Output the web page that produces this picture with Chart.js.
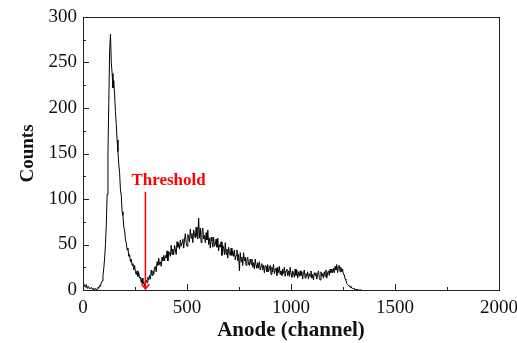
<!DOCTYPE html>
<html>
<head>
<meta charset="utf-8">
<script src="https://cdn.jsdelivr.net/npm/chart.js@4/dist/chart.umd.min.js"></script>
<style>
  html, body { margin: 0; padding: 0; background: #fff; }
  canvas { display: block; }
</style>
</head>
<body>
<canvas id="spectrum" width="517" height="343"></canvas>
<script>
// counts per bin, bin width 4 channels starting at channel 0 (20 bins per row)
const binWidth = 4;
const counts = [
  7, 4, 5, 3, 6, 2, 4, 3, 1, 2, 3, 1, 2, 0, 1, 2, 0, 1, 3, 2,
  5, 4, 8, 10, 16, 24, 35, 50, 72, 105, 150, 205, 262, 281, 250, 238, 222, 230, 214, 196,
  182, 165, 152, 138, 129, 110, 104, 86, 82, 69, 66, 55, 52, 44, 46, 37, 39, 31, 34, 27,
  29, 22, 27, 20, 17, 21, 15, 19, 13, 14, 8, 13, 7, 9, 4, 9, 11, 8, 14, 11,
  16, 12, 22, 16, 21, 17, 25, 26, 20, 31, 27, 35, 28, 31, 26, 36, 32, 38, 32, 38,
  35, 43, 32, 42, 41, 37, 49, 39, 45, 39, 49, 45, 39, 53, 47, 51, 45, 55, 48, 52,
  56, 46, 55, 62, 52, 48, 61, 58, 53, 67, 57, 62, 52, 66, 61, 57, 69, 59, 56, 79,
  57, 68, 52, 64, 68, 56, 60, 52, 63, 55, 66, 50, 57, 46, 58, 54, 47, 58, 48, 50,
  56, 47, 57, 43, 50, 47, 53, 38, 49, 46, 39, 52, 39, 45, 35, 47, 41, 38, 46, 38,
  43, 37, 44, 33, 38, 44, 32, 39, 21, 41, 31, 36, 27, 41, 32, 36, 27, 34, 36, 28,
  27, 34, 28, 34, 25, 30, 23, 34, 27, 24, 30, 24, 31, 22, 26, 29, 22, 27, 19, 27,
  26, 20, 28, 20, 24, 27, 17, 25, 20, 28, 18, 21, 24, 16, 25, 19, 26, 17, 21, 16,
  23, 18, 25, 15, 21, 23, 16, 21, 15, 25, 18, 14, 21, 19, 14, 23, 16, 22, 13, 20,
  15, 21, 16, 20, 12, 19, 22, 13, 18, 15, 20, 12, 18, 15, 21, 13, 17, 11, 19, 16,
  19, 12, 17, 21, 14, 11, 20, 15, 18, 13, 20, 15, 22, 13, 19, 21, 16, 23, 19, 23,
  19, 24, 19, 26, 22, 28, 19, 25, 27, 20, 25, 20, 23, 17, 17, 12, 11, 7, 6, 5,
  5, 3, 4, 2, 2, 1, 2, 0, 1, 0, 1, 0, 0, 0, 0, 0
];
const channels = counts.map((c, i) => i * binWidth);

const xTicks = [0, 500, 1000, 1500, 2000];
const yTicks = [0, 50, 100, 150, 200, 250, 300];
const thresholdChannel = 300;
const thresholdTop = 108;
const thresholdLabel = 'Threshold';

const points = channels.map((ch, i) => ({ x: ch, y: counts[i] }));

// frame, inward ticks and threshold arrow
const frameAndArrow = {
  id: 'frameAndArrow',
  afterDatasetsDraw(chart) {
    const ctx = chart.ctx;
    const area = chart.chartArea;
    const xs = chart.scales.x;
    const ys = chart.scales.y;
    ctx.save();
    ctx.strokeStyle = '#222';
    ctx.lineWidth = 1;
    ctx.strokeRect(Math.round(area.left) + 0.5, Math.round(area.top) + 0.5,
      Math.round(area.right - area.left), Math.round(area.bottom - area.top));

    ctx.beginPath();
    for (let v = 0; v <= 2000; v += 250) {
      const px = Math.round(xs.getPixelForValue(v)) + 0.5;
      const len = v % 500 === 0 ? 6 : 3;
      ctx.moveTo(px, area.bottom);
      ctx.lineTo(px, area.bottom - len);
    }
    for (let v = 0; v <= 300; v += 25) {
      const py = Math.round(ys.getPixelForValue(v)) + 0.5;
      const len = v % 50 === 0 ? 6 : 3;
      ctx.moveTo(area.left, py);
      ctx.lineTo(area.left + len, py);
    }
    ctx.stroke();

    // threshold arrow
    const ax = xs.getPixelForValue(thresholdChannel);
    const top = ys.getPixelForValue(thresholdTop);
    const bot = ys.getPixelForValue(0);
    ctx.strokeStyle = '#ff0000';
    ctx.lineWidth = 1.5;
    ctx.beginPath();
    ctx.moveTo(ax, top);
    ctx.lineTo(ax, bot - 1);
    ctx.moveTo(ax - 4, bot - 6);
    ctx.lineTo(ax, bot - 1);
    ctx.lineTo(ax + 4, bot - 6);
    ctx.stroke();

    ctx.fillStyle = '#ff0000';
    ctx.font = 'bold 17px "Liberation Serif", "Times New Roman", serif';
    ctx.textAlign = 'left';
    ctx.textBaseline = 'alphabetic';
    ctx.fillText(thresholdLabel, ax - 14, top - 7);
    ctx.restore();
  }
};

const serif = '"Liberation Serif", "Times New Roman", serif';

new Chart(document.getElementById('spectrum'), {
  type: 'line',
  data: {
    datasets: [{
      label: 'Anode',
      data: points,
      borderColor: '#000',
      borderWidth: 1,
      pointRadius: 0,
      tension: 0,
      fill: false
    }]
  },
  options: {
    responsive: false,
    animation: false,
    devicePixelRatio: 1,
    layout: { padding: { top: 17, right: 18, left: 0, bottom: 0 } },
    plugins: {
      legend: { display: false },
      tooltip: { enabled: false }
    },
    scales: {
      x: {
        type: 'linear',
        min: 0,
        max: 2000,
        afterBuildTicks: s => { s.ticks = xTicks.map(v => ({ value: v })); },
        afterFit: s => { s.height = 53; s.paddingLeft = 0; s.paddingRight = 0; },
        grid: { display: false, drawTicks: false },
        border: { display: false },
        ticks: {
          color: '#111', padding: 7, maxRotation: 0,
          font: { family: serif, size: 19 },
          callback: v => String(v)
        },
        title: {
          display: true,
          text: 'Anode (channel)',
          color: '#111',
          padding: { top: 0, bottom: 0 },
          font: { family: serif, size: 21, weight: 'bold' }
        }
      },
      y: {
        min: 0,
        max: 300,
        afterBuildTicks: s => { s.ticks = yTicks.map(v => ({ value: v })); },
        afterFit: s => { s.width = 83; s.paddingTop = 0; s.paddingBottom = 0; },
        grid: { display: false, drawTicks: false },
        border: { display: false },
        ticks: {
          color: '#111', padding: 6,
          font: { family: serif, size: 19 },
          callback: v => String(v)
        },
        title: {
          display: true,
          text: 'Counts',
          color: '#111',
          padding: { top: 17, bottom: 0 },
          font: { family: serif, size: 19, weight: 'bold' }
        }
      }
    }
  },
  plugins: [frameAndArrow]
});
</script>
</body>
</html>
